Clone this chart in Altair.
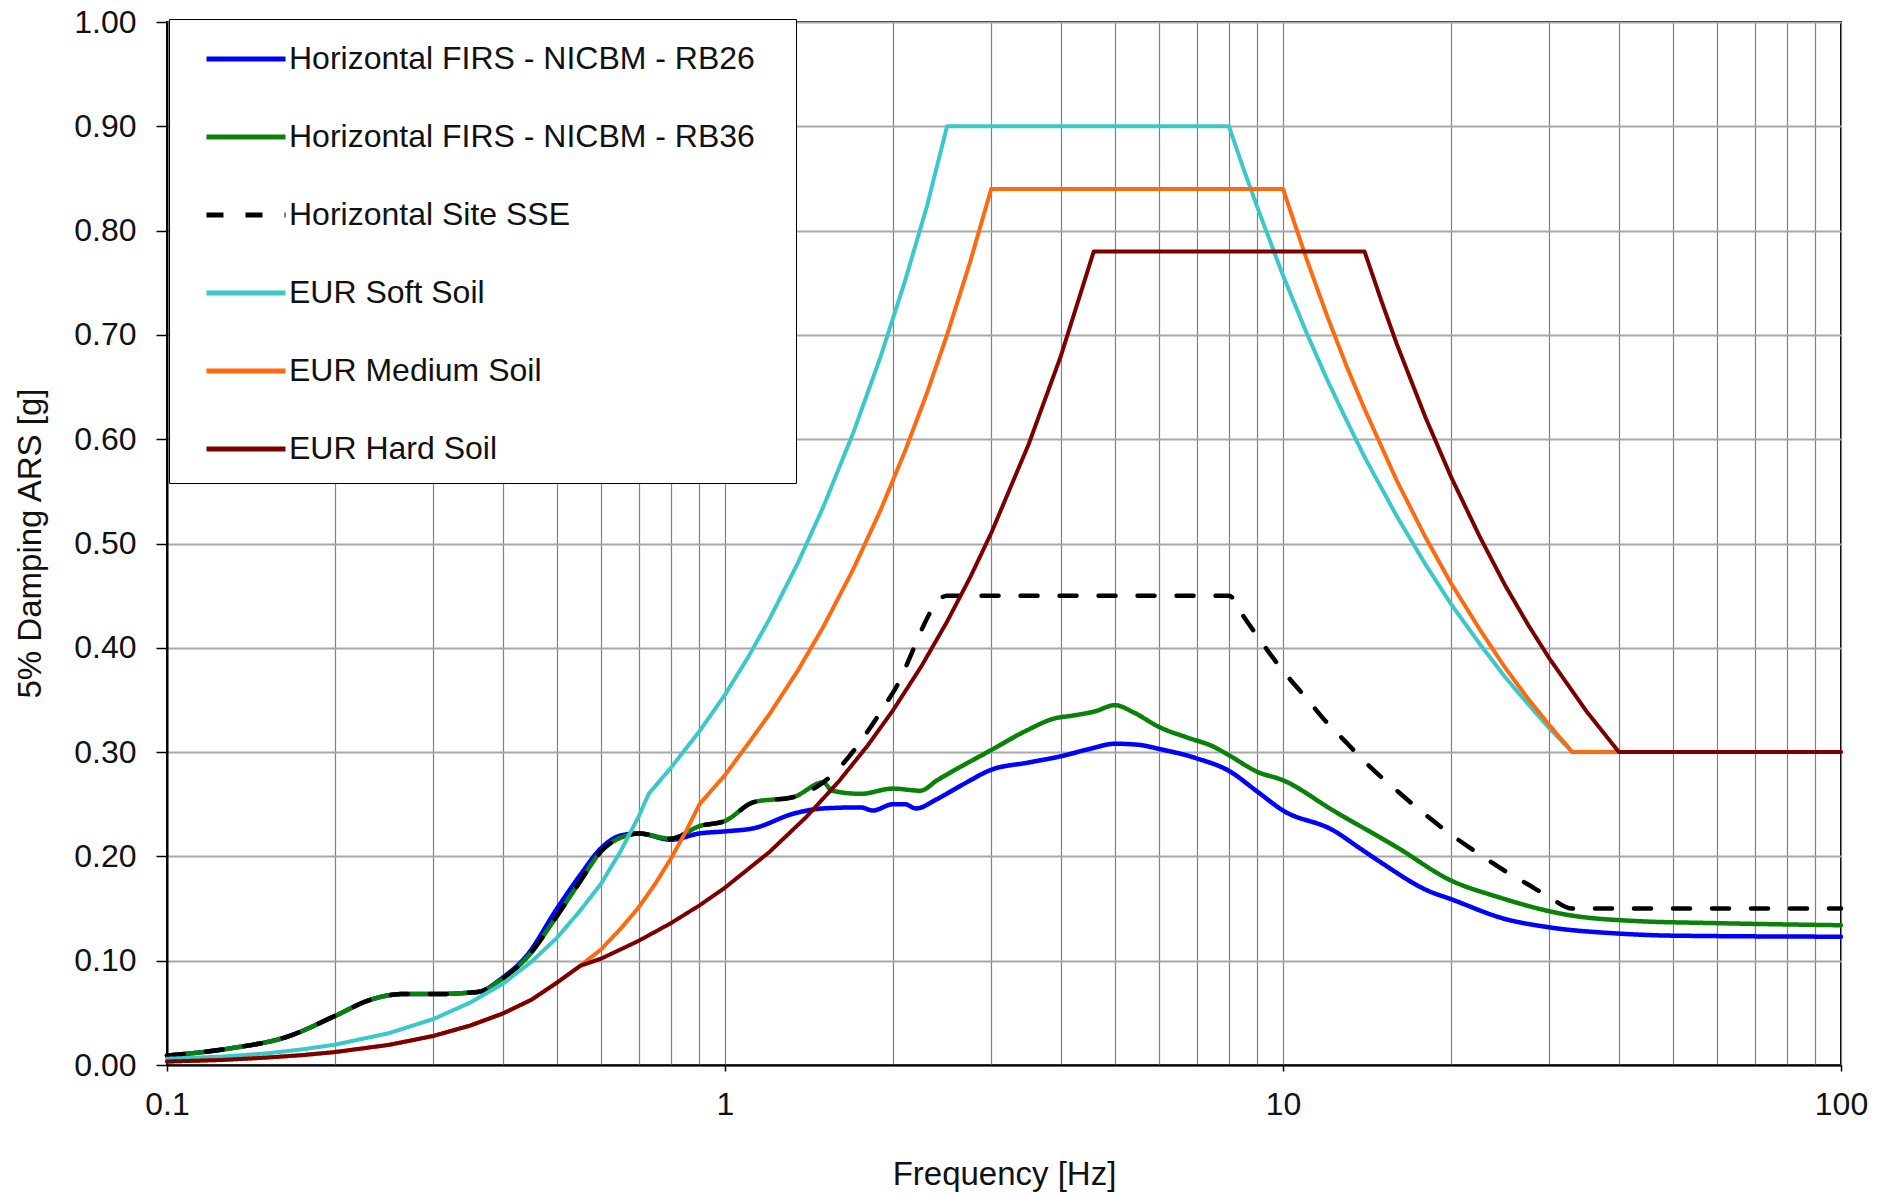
import altair as alt
import pandas as pd

SERIES = [
    "Horizontal FIRS - NICBM - RB26",
    "Horizontal FIRS - NICBM - RB36",
    "Horizontal Site SSE",
    "EUR Soft Soil",
    "EUR Medium Soil",
    "EUR Hard Soil",
]
COLORS = ["#0000FF", "#0A820A", "#000000", "#3CC8C8", "#FF6A10", "#7A0000"]
DASHES = [[1, 0], [1, 0], [17, 22], [1, 0], [1, 0], [1, 0]]
WIDTHS = [4.5, 4.5, 4.5, 4, 4, 4]

rb26_f = [0.1, 0.13, 0.164, 0.2, 0.23, 0.264, 0.3, 0.36, 0.4, 0.44, 0.5, 0.55, 0.6, 0.65, 0.7, 0.8,
          0.9, 1.0, 1.126, 1.328, 1.5, 1.75, 1.84, 2.0, 2.1, 2.2, 2.4, 2.65, 3.0, 3.5, 4.0, 4.5, 5.0,
          5.5, 6.0, 7.0, 8.0, 9.0, 10, 12.3, 13.8, 15, 18.2, 20, 25, 30, 40, 50, 100]
rb26_v = [0.009, 0.016, 0.027, 0.047, 0.062, 0.068, 0.068, 0.070, 0.084, 0.104, 0.150, 0.182, 0.208,
          0.220, 0.222, 0.216, 0.222, 0.224, 0.227, 0.241, 0.246, 0.247, 0.244, 0.250, 0.250, 0.246,
          0.255, 0.268, 0.283, 0.290, 0.296, 0.303, 0.308, 0.307, 0.303, 0.294, 0.282, 0.262, 0.244,
          0.225, 0.207, 0.194, 0.167, 0.159, 0.140, 0.132, 0.126, 0.124, 0.123]

rb36_f = [0.1, 0.13, 0.164, 0.2, 0.23, 0.264, 0.3, 0.36, 0.4, 0.44, 0.5, 0.55, 0.6, 0.667, 0.7, 0.8,
          0.9, 1.0, 1.126, 1.328, 1.5, 1.555, 1.75, 2.0, 2.24, 2.4, 3.0, 3.48, 3.88, 4.2, 4.6, 5.0,
          5.4, 6.0, 6.73, 7.52, 8.0, 9.0, 10, 12.3, 16.2, 19.8, 24.3, 32.3, 43, 60, 100]
rb36_v = [0.009, 0.016, 0.027, 0.047, 0.062, 0.068, 0.068, 0.070, 0.083, 0.102, 0.143, 0.176, 0.205,
          0.220, 0.222, 0.217, 0.229, 0.234, 0.252, 0.257, 0.271, 0.263, 0.260, 0.265, 0.263, 0.273,
          0.302, 0.321, 0.332, 0.335, 0.339, 0.345, 0.338, 0.324, 0.314, 0.305, 0.297, 0.281, 0.273,
          0.244, 0.207, 0.178, 0.161, 0.144, 0.138, 0.136, 0.134]

sse_f = [0.1, 0.13, 0.164, 0.2, 0.23, 0.264, 0.3, 0.36, 0.4, 0.44, 0.5, 0.55, 0.6, 0.667, 0.7, 0.8,
         0.9, 1.0, 1.126, 1.328, 1.5, 2.0, 2.5, 8.0, 8.5, 9.0, 10, 11, 12, 13, 14, 16, 18, 20, 22.5,
         25, 27.5, 30, 33, 100]
sse_v = [0.009, 0.016, 0.027, 0.047, 0.062, 0.068, 0.068, 0.070, 0.083, 0.102, 0.143, 0.176, 0.205,
         0.220, 0.222, 0.217, 0.229, 0.234, 0.252, 0.257, 0.271, 0.357, 0.450, 0.450, 0.430, 0.411,
         0.378, 0.352, 0.328, 0.309, 0.291, 0.263, 0.240, 0.221, 0.202, 0.186, 0.173, 0.161, 0.150,
         0.150]

soft_f = [0.1, 0.125, 0.15, 0.175, 0.2, 0.25, 0.3, 0.35, 0.4, 0.45, 0.5, 0.55, 0.6, 0.65, 0.7, 0.73,
          0.8, 0.9, 1.0, 1.1, 1.2, 1.35, 1.5, 1.7, 1.9, 2.1, 2.3, 2.5, 8.0, 8.5, 9.0, 10, 11, 12, 13,
          14, 16, 18, 20, 22.5, 25, 27.5, 30, 33, 100]
soft_v = [0.006, 0.008, 0.011, 0.015, 0.0195, 0.0305, 0.044, 0.060, 0.078, 0.099, 0.122, 0.148,
          0.174, 0.205, 0.238, 0.260, 0.285, 0.320, 0.355, 0.391, 0.427, 0.481, 0.535, 0.607, 0.679,
          0.751, 0.823, 0.900, 0.900, 0.859, 0.822, 0.757, 0.703, 0.657, 0.618, 0.583, 0.526, 0.480,
          0.442, 0.404, 0.372, 0.346, 0.323, 0.300, 0.300]

medium_f = [0.1, 0.125, 0.15, 0.175, 0.2, 0.25, 0.3, 0.35, 0.4, 0.45, 0.5, 0.55, 0.6, 0.65, 0.7,
            0.75, 0.8, 0.85, 0.9, 1.0, 1.1, 1.2, 1.35, 1.5, 1.7, 1.9, 2.1, 2.3, 2.5, 2.75, 3.0, 10,
            11, 12, 13, 14, 16, 18, 20, 22.5, 25, 27.5, 30, 33, 100]
medium_v = [0.0033, 0.0048, 0.007, 0.0095, 0.0124, 0.0193, 0.0278, 0.0379, 0.0494, 0.0626, 0.0790,
            0.0950, 0.111, 0.1306, 0.151, 0.1738, 0.198, 0.2233, 0.250, 0.278, 0.308, 0.336, 0.378,
            0.420, 0.476, 0.532, 0.588, 0.644, 0.700, 0.770, 0.840, 0.840, 0.774, 0.718, 0.670,
            0.629, 0.560, 0.506, 0.462, 0.418, 0.381, 0.351, 0.326, 0.300, 0.300]

hard_f = [0.1, 0.125, 0.15, 0.175, 0.2, 0.25, 0.3, 0.35, 0.4, 0.45, 0.5, 0.55, 0.6, 0.7, 0.8, 0.9,
          1.0, 1.2, 1.4, 1.6, 1.8, 2.0, 2.25, 2.5, 2.75, 3.0, 3.5, 4.0, 4.58, 14, 15, 16, 18, 20,
          22.5, 25, 27.5, 30, 35, 40, 100]
hard_v = [0.0033, 0.0048, 0.007, 0.0095, 0.0124, 0.0193, 0.0278, 0.0379, 0.0494, 0.0626, 0.0790,
          0.0950, 0.102, 0.119, 0.136, 0.153, 0.170, 0.204, 0.238, 0.272, 0.306, 0.340, 0.3825,
          0.425, 0.4675, 0.510, 0.595, 0.680, 0.780, 0.780, 0.733, 0.691, 0.621, 0.564, 0.507,
          0.460, 0.422, 0.390, 0.339, 0.300, 0.300]

X_GRID = [0.1, 0.2, 0.3, 0.4, 0.5, 0.6, 0.7, 0.8, 0.9,
          1, 2, 3, 4, 5, 6, 7, 8, 9,
          10, 20, 30, 40, 50, 60, 70, 80, 90, 100]
Y_TICKS = [0.0, 0.1, 0.2, 0.3, 0.4, 0.5, 0.6, 0.7, 0.8, 0.9, 1.0]

all_data = [(rb26_f, rb26_v), (rb36_f, rb36_v), (sse_f, sse_v),
            (soft_f, soft_v), (medium_f, medium_v), (hard_f, hard_v)]
rows = []
for i, (fs, vs) in enumerate(all_data):
    for f, v in zip(fs, vs):
        rows.append({"series": SERIES[i], "f": f, "v": v})
df = pd.DataFrame(rows)

FONT = "Liberation Sans"
decade_test = "datum.value == 0.1 || datum.value == 1 || datum.value == 10 || datum.value == 100"
PAD_CHAR = "\u2800"

x_enc = alt.X(
    "f:Q",
    title="Frequency [Hz]",
    scale=alt.Scale(type="log", domain=[0.1, 100], nice=False),
    axis=alt.Axis(
        values=X_GRID,
        format="~g",
        labelExpr="(" + decade_test + ") ? datum.label : ''",
        tickOpacity={"condition": {"test": decade_test, "value": 1}, "value": 0},
        tickSize=6,
        tickColor="black",
        tickWidth=1.5,
        domainColor="black",
        domainWidth=2,
        grid=True,
        gridColor="#808080",
        gridWidth=1.2,
        labelFont=FONT,
        labelFontSize=32,
        labelColor="#111111",
        labelPadding=18,
        labelFlush=False,
        labelOverlap=False,
        titleFont=FONT,
        titleFontSize=33,
        titleFontWeight="normal",
        titleColor="#111111",
        titleBaseline="alphabetic",
        titleY=119,
    ),
)
y_enc = alt.Y(
    "v:Q",
    title="5% Damping ARS [g]",
    scale=alt.Scale(domain=[0, 1], nice=False),
    axis=alt.Axis(
        values=Y_TICKS,
        format=".2f",
        tickSize=11,
        tickColor="black",
        tickWidth=1.5,
        domainColor="black",
        domainWidth=2,
        grid=True,
        gridColor="#a8a8a8",
        gridWidth=2,
        labelFont=FONT,
        labelFontSize=32,
        labelColor="#111111",
        labelPadding=20,
        labelFlush=False,
        labelOverlap=False,
        titleFont=FONT,
        titleFontSize=33,
        titleFontWeight="normal",
        titleColor="#111111",
        titleBaseline="middle",
        titleX=-137,
        titleY=521,
    ),
)

legend = alt.Legend(
    title=None,
    orient="none",
    legendX=2,
    legendY=-3,
    symbolType="M-2.026,0L2.026,0",
    symbolSize=1521,
    symbolStrokeWidth=5,
    symbolOffset=37,
    labelFont=FONT,
    labelFontSize=32,
    labelColor="#111111",
    labelOffset=21,
    labelLimit=900,
    labelExpr="datum.label + '" + PAD_CHAR + "'",
    padding=18,
    rowPadding=40,
    strokeColor="black",
    fillColor="white",
)

color_enc = alt.Color("series:N", scale=alt.Scale(domain=SERIES, range=COLORS), legend=legend)
dash_enc = alt.StrokeDash("series:N", scale=alt.Scale(domain=SERIES, range=DASHES), legend=legend)

layers = []
for i, name in enumerate(SERIES):
    interp = "monotone" if i < 3 else "linear"
    layers.append(
        alt.Chart(df)
        .transform_filter(alt.datum.series == name)
        .mark_line(strokeWidth=WIDTHS[i], interpolate=interp, strokeCap="round", strokeJoin="round")
        .encode(x=x_enc, y=y_enc, color=color_enc, strokeDash=dash_enc)
    )

chart = (
    alt.layer(*layers)
    .properties(
        width=1674,
        height=1043,
        autosize="none",
        padding={"left": 167, "top": 22, "right": 52, "bottom": 130},
        background="white",
    )
    .configure_view(stroke="black", strokeWidth=2)
)

chart.save("out.html", embed_options={"renderer": "svg", "actions": False})
